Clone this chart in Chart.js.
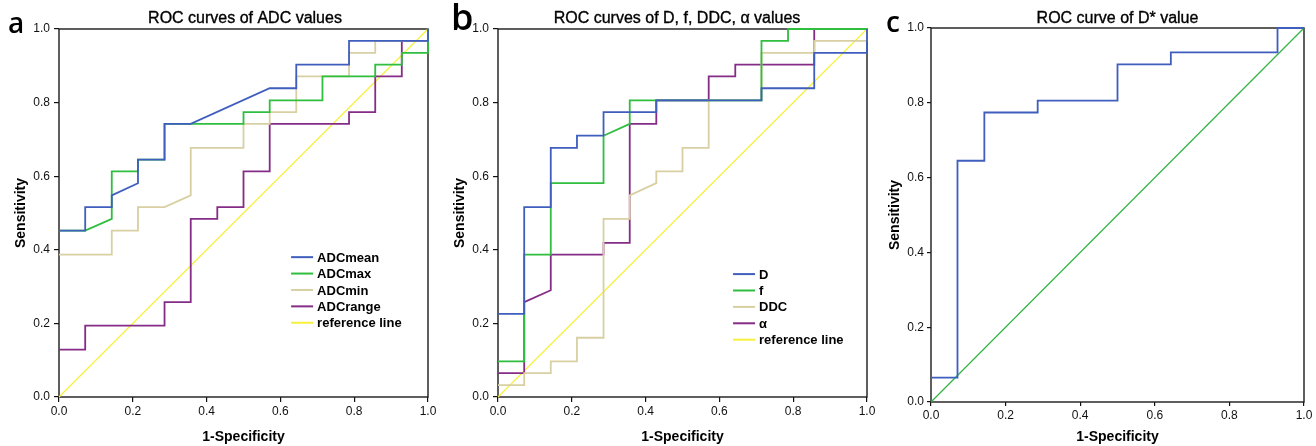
<!DOCTYPE html>
<html><head><meta charset="utf-8">
<script src="https://cdn.jsdelivr.net/npm/chart.js@4.4.1/dist/chart.umd.min.js"></script>
<style>
body{margin:0;background:#fff;width:1316px;height:446px;overflow:hidden;position:relative}
canvas{position:absolute;top:0}
</style></head><body>
<canvas id="ca" width="440" height="446" style="left:0"></canvas>
<canvas id="cb" width="440" height="446" style="left:440px"></canvas>
<canvas id="cc" width="436" height="446" style="left:880px"></canvas>
<script>
// ---- tick labels ----
const tickValues = [0, 0.2, 0.4, 0.6, 0.8, 1.0];
const tickLabels = ['0.0', '0.2', '0.4', '0.6', '0.8', '1.0'];
const xTitle = '1-Specificity';
const yTitle = 'Sensitivity';
const panelLetters = ['a', 'b', 'c'];
const panelTitles = ['ROC curves of ADC values', 'ROC curves of D, f, DDC, \u03b1 values', 'ROC curve of D* value'];

// ---- panel a series (1-specificity, sensitivity) ----
const adcNames = ['ADCmean', 'ADCmax', 'ADCmin', 'ADCrange', 'reference line'];
const adcMeanX = [0, 0.071, 0.071, 0.143, 0.143, 0.214, 0.214, 0.286, 0.286, 0.357, 0.571, 0.643, 0.643, 0.786, 0.786, 1, 1];
const adcMeanY = [0.452, 0.452, 0.516, 0.516, 0.548, 0.581, 0.645, 0.645, 0.742, 0.742, 0.839, 0.839, 0.903, 0.903, 0.968, 0.968, 1];
const adcMaxX = [0, 0.071, 0.143, 0.143, 0.214, 0.214, 0.286, 0.286, 0.5, 0.5, 0.571, 0.571, 0.714, 0.714, 0.857, 0.857, 0.929, 0.929, 1, 1];
const adcMaxY = [0.452, 0.452, 0.484, 0.613, 0.613, 0.645, 0.645, 0.742, 0.742, 0.774, 0.774, 0.806, 0.806, 0.871, 0.871, 0.903, 0.903, 0.935, 0.935, 1];
const adcMinX = [0, 0.143, 0.143, 0.214, 0.214, 0.286, 0.357, 0.357, 0.5, 0.5, 0.571, 0.571, 0.643, 0.643, 0.786, 0.786, 0.857, 0.857, 1, 1];
const adcMinY = [0.387, 0.387, 0.452, 0.452, 0.516, 0.516, 0.548, 0.677, 0.677, 0.742, 0.742, 0.774, 0.774, 0.871, 0.871, 0.935, 0.935, 0.968, 0.968, 1];
const adcRangeX = [0, 0.071, 0.071, 0.286, 0.286, 0.357, 0.357, 0.429, 0.429, 0.5, 0.5, 0.571, 0.571, 0.786, 0.786, 0.857, 0.857, 0.929, 0.929, 1, 1];
const adcRangeY = [0.129, 0.129, 0.194, 0.194, 0.258, 0.258, 0.484, 0.484, 0.516, 0.516, 0.613, 0.613, 0.742, 0.742, 0.774, 0.774, 0.871, 0.871, 0.968, 0.968, 1];
const refX = [0, 1];
const refY = [0, 1];

// ---- panel b series ----
const ivimNames = ['D', 'f', 'DDC', '\u03b1', 'reference line'];
const dX = [0, 0.071, 0.071, 0.143, 0.143, 0.214, 0.214, 0.286, 0.286, 0.429, 0.429, 0.714, 0.714, 0.857, 0.857, 1, 1];
const dY = [0.226, 0.226, 0.516, 0.516, 0.677, 0.677, 0.710, 0.710, 0.774, 0.774, 0.806, 0.806, 0.839, 0.839, 0.935, 0.935, 1];
const fX = [0, 0.071, 0.071, 0.143, 0.143, 0.286, 0.286, 0.357, 0.357, 0.714, 0.714, 0.786, 0.786, 1];
const fY = [0.097, 0.097, 0.387, 0.387, 0.581, 0.581, 0.710, 0.742, 0.806, 0.806, 0.968, 0.968, 1, 1];
const ddcX = [0, 0.071, 0.071, 0.143, 0.143, 0.214, 0.214, 0.286, 0.286, 0.357, 0.357, 0.429, 0.429, 0.5, 0.5, 0.571, 0.571, 0.714, 0.714, 0.857, 0.857, 1, 1];
const ddcY = [0.032, 0.032, 0.065, 0.065, 0.097, 0.097, 0.161, 0.161, 0.484, 0.484, 0.548, 0.581, 0.613, 0.613, 0.677, 0.677, 0.806, 0.806, 0.935, 0.935, 0.968, 0.968, 1];
const alphaX = [0, 0.071, 0.071, 0.143, 0.143, 0.286, 0.286, 0.357, 0.357, 0.429, 0.429, 0.571, 0.571, 0.643, 0.643, 0.857, 0.857, 1];
const alphaY = [0.065, 0.065, 0.258, 0.290, 0.387, 0.387, 0.419, 0.419, 0.742, 0.742, 0.806, 0.806, 0.871, 0.871, 0.903, 0.903, 1, 1];

// ---- panel c series ----
const dStarName = 'D*';
const dStarX = [0, 0.071, 0.071, 0.143, 0.143, 0.286, 0.286, 0.5, 0.5, 0.643, 0.643, 0.929, 0.929, 1];
const dStarY = [0.065, 0.065, 0.645, 0.645, 0.774, 0.774, 0.806, 0.806, 0.903, 0.903, 0.935, 0.935, 1, 1];

// ---- styling ----
const FONT = '"Liberation Sans", Arial, Helvetica, sans-serif';
Chart.defaults.font.family = FONT;
Chart.defaults.color = '#000';
const C = {blue:'#3F5EBE', green:'#2FBE3E', tan:'#D8D0A2', purple:'#852C86', yellow:'#F7F03A', green2:'#30B443'};

function pts(xs, ys){ return xs.map((x, i) => ({x: x, y: ys[i]})); }
function ds(label, xs, ys, color, w){
  return {label: label, data: pts(xs, ys), borderColor: color, backgroundColor: color,
    borderWidth: w, pointRadius: 0, pointHoverRadius: 0, tension: 0, fill: false,
    borderJoinStyle: 'miter', borderCapStyle: 'butt', clip: 4};
}

const framePlugin = {
  id: 'frame',
  beforeDatasetsDraw(chart){
    const a = chart.chartArea, ctx = chart.ctx;
    ctx.save(); ctx.strokeStyle = '#1a1a1a'; ctx.lineWidth = 1.4;
    ctx.strokeRect(a.left, a.top, a.right - a.left, a.bottom - a.top);
    ctx.restore();
  }
};
const textPlugin = {
  id: 'paneltext',
  afterDraw(chart, args, o){
    const a = chart.chartArea, ctx = chart.ctx;
    ctx.save();
    ctx.fillStyle = '#000'; ctx.strokeStyle = '#000'; ctx.lineWidth = 0.35;
    ctx.font = '16px ' + FONT; ctx.textAlign = 'center'; ctx.textBaseline = 'alphabetic';
    const tx = (a.left + a.right) / 2 + o.dx;
    ctx.fillText(o.title, tx, 23);
    ctx.strokeText(o.title, tx, 23);
    ctx.font = '600 ' + o.letterSize + 'px "Open Sans", ' + FONT; ctx.textAlign = 'left';
    ctx.fillText(o.letter, o.letterX, o.letterY);
    if (o.legend) {
      const lx = a.left + (a.right - a.left) * o.lx, ly = a.top + (a.bottom - a.top) * o.ly;
      ctx.font = 'bold 13px ' + FONT; ctx.textBaseline = 'middle';
      chart.data.datasets.forEach((d, i) => {
        const y = ly + i * 16.4;
        ctx.strokeStyle = d.borderColor; ctx.lineWidth = 2;
        ctx.beginPath(); ctx.moveTo(lx, y); ctx.lineTo(lx + 22, y); ctx.stroke();
        ctx.fillText(d.label, lx + 26, y + 1);
      });
    }
    ctx.restore();
  }
};

function makeChart(id, datasets, cfg){
  return new Chart(document.getElementById(id), {
    type: 'line',
    data: {datasets: datasets},
    plugins: [framePlugin, textPlugin],
    options: {
      responsive: false, animation: false, events: [],
      layout: {padding: {top: cfg.top, right: cfg.right, left: 0, bottom: 0}},
      plugins: {legend: {display: false}, tooltip: {enabled: false}, title: {display: false},
        paneltext: cfg.text},
      scales: {
        x: {type: 'linear', min: 0, max: 1,
          afterBuildTicks: s => { s.ticks = tickValues.map(v => ({value: v})); },
          afterFit: s => { s.height = cfg.xh; },
          ticks: {callback: (v, i) => tickLabels[i], font: {size: 12}, color: '#111', padding: 2, maxRotation: 0, autoSkip: false},
          grid: {drawOnChartArea: false, drawTicks: true, tickLength: cfg.tl, color: '#111', lineWidth: 1.2},
          border: {display: false},
          title: {display: true, text: xTitle, font: {size: 14, weight: 'bold'}, color: '#000', padding: {top: cfg.xtp, bottom: 0}}
        },
        y: {type: 'linear', min: 0, max: 1,
          afterBuildTicks: s => { s.ticks = tickValues.map(v => ({value: v})); },
          afterFit: s => { s.width = cfg.yw; },
          ticks: {callback: (v, i) => tickLabels[i], font: {size: 12}, color: '#111', padding: cfg.yp, autoSkip: false},
          grid: {drawOnChartArea: false, drawTicks: true, tickLength: cfg.tl, color: '#111', lineWidth: 1.2},
          border: {display: false},
          title: {display: true, text: yTitle, font: {size: 14, weight: 'bold'}, color: '#000', padding: {top: cfg.ytp, bottom: 0}}
        }
      }
    }
  });
}

makeChart('ca', [
  ds(adcNames[0], adcMeanX, adcMeanY, C.blue, 1.8),
  ds(adcNames[1], adcMaxX, adcMaxY, C.green, 1.8),
  ds(adcNames[2], adcMinX, adcMinY, C.tan, 1.8),
  ds(adcNames[3], adcRangeX, adcRangeY, C.purple, 1.8),
  ds(adcNames[4], refX, refY, C.yellow, 1.2)
], {top: 29, right: 12, xh: 49, yw: 59, tl: 5, yp: 4, xtp: 4, ytp: 13,
   text: {title: panelTitles[0], dx: 1.5, letter: panelLetters[0], letterX: 8, letterY: 33, letterSize: 28, legend: true, lx: 0.629, ly: 0.62}});

makeChart('cb', [
  ds(ivimNames[0], dX, dY, C.blue, 1.8),
  ds(ivimNames[1], fX, fY, C.green, 1.8),
  ds(ivimNames[2], ddcX, ddcY, C.tan, 1.8),
  ds(ivimNames[3], alphaX, alphaY, C.purple, 1.8),
  ds(ivimNames[4], refX, refY, C.yellow, 1.2)
], {top: 29, right: 13, xh: 49, yw: 58, tl: 5, yp: 4, xtp: 4, ytp: 12,
   text: {title: panelTitles[1], dx: -5.5, letter: panelLetters[1], letterX: 11, letterY: 30, letterSize: 36, legend: true, lx: 0.637, ly: 0.666}});

makeChart('cc', [
  ds(dStarName, dStarX, dStarY, C.blue, 1.8),
  ds('reference line', refX, refY, C.green2, 1.2)
], {top: 28, right: 12, xh: 44, yw: 51, tl: 4, yp: 3, xtp: 3, ytp: 7,
   text: {title: panelTitles[2], dx: 0, letter: panelLetters[2], letterX: 6, letterY: 32, letterSize: 28, legend: false}});
</script>
</body></html>
